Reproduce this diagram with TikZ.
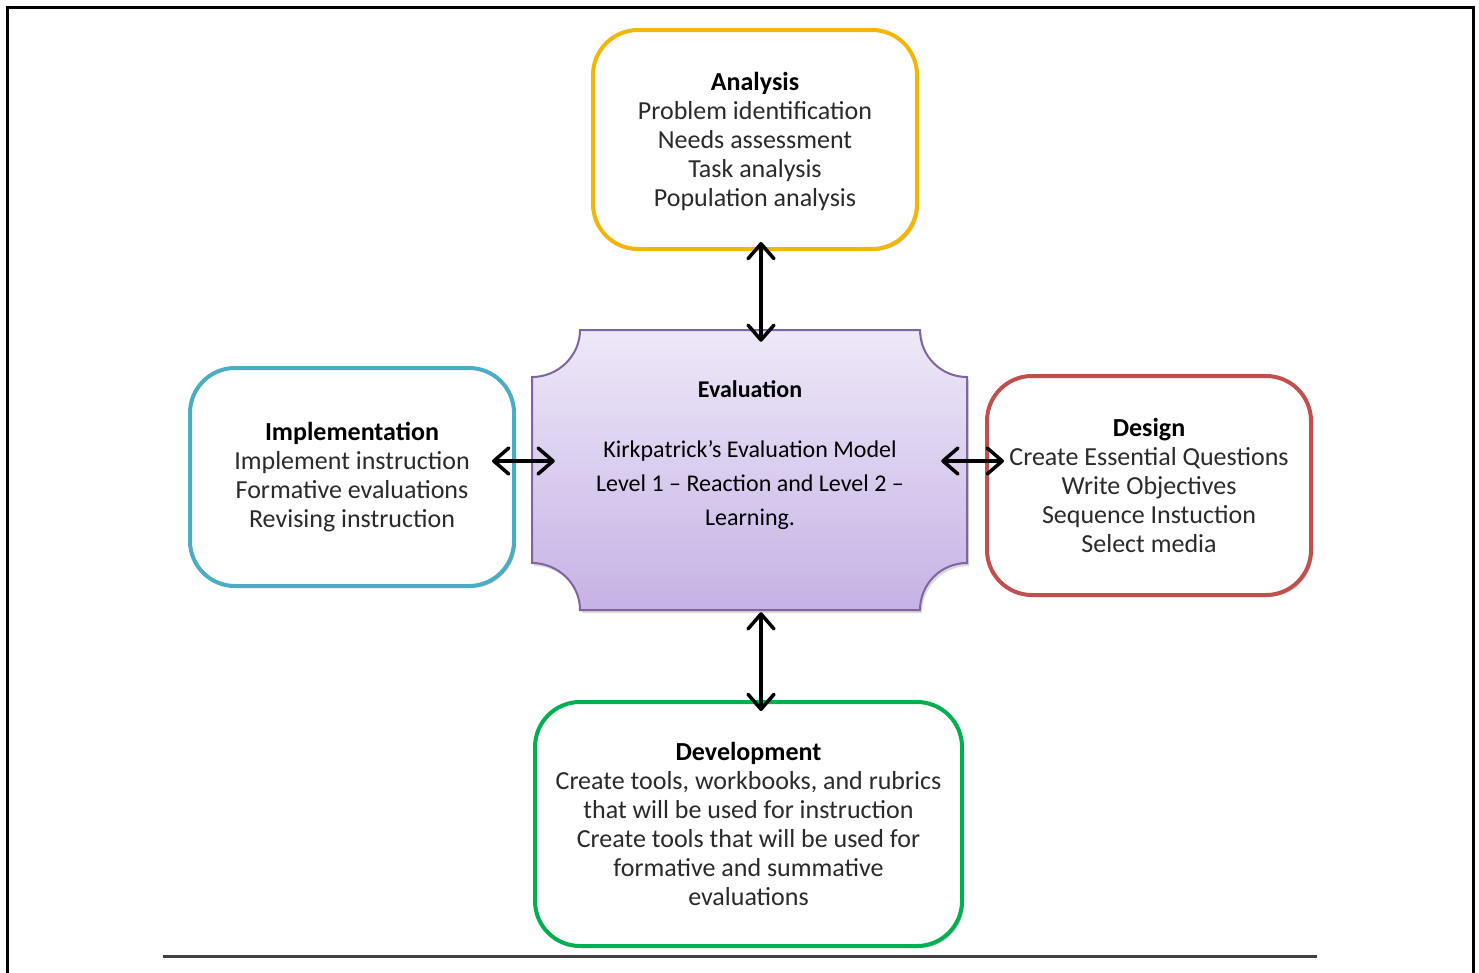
\documentclass[tikz,border=0pt]{standalone}
\usepackage{fontspec}
\setmainfont{Carlito}
\usetikzlibrary{arrows.meta,shadows}
\definecolor{goldc}{HTML}{F2B705}
\definecolor{bluec}{HTML}{4BACC6}
\definecolor{redc}{HTML}{C0504D}
\definecolor{greenc}{HTML}{00B050}
\definecolor{purplec}{HTML}{8064A2}
\definecolor{evaltop}{HTML}{EEE8F8}
\definecolor{evalbot}{HTML}{C6B2E5}
\definecolor{bodytext}{HTML}{2A2A2A}
\tikzset{
  phasebox/.style={draw, line width=4pt, rounded corners=45pt, fill=white,
    align=center, inner sep=0pt, text=bodytext,
    font=\fontsize{26}{29}\selectfont,
    drop shadow={shadow xshift=2pt, shadow yshift=-2pt, opacity=0.2, fill=black}},
  dbl/.style={line width=3.5pt, line cap=round, line join=round,
    {Straight Barb[length=15pt,width=26pt,line cap=round,line join=round]}-{Straight Barb[length=15pt,width=26pt,line cap=round,line join=round]}},
}
\begin{document}
\begin{tikzpicture}[x=1pt,y=-1pt]
\useasboundingbox (0,0) rectangle (1479,972);
% frame
\draw[line width=3pt] (7,975) -- (7,7) -- (1473,7) -- (1473,975);
\draw[line width=3pt, black!75] (163,956) -- (1317,956);

% evaluation shape (concave corners)
\path[draw=purplec, line width=2pt, top color=evaltop, bottom color=evalbot,
  drop shadow={shadow xshift=2pt, shadow yshift=-3pt, opacity=0.15, fill=black}]
  (580,330) -- (920,330)
  .. controls (920,356) and (941,377) .. (967,377)
  -- (967,563)
  .. controls (941,563) and (920,584) .. (920,610)
  -- (580,610)
  .. controls (580,584) and (558,563) .. (532,563)
  -- (532,377)
  .. controls (558,377) and (580,356) .. (580,330) -- cycle;
\node[minimum width=435pt, minimum height=280pt, inner sep=0pt] (eval) at (749.5,470) {};
\node[font=\fontsize{24}{28}\selectfont\bfseries] (evaltitle) at (750,389) {Evaluation};
\node[align=center, font=\fontsize{24}{34}\selectfont] (evalbody) at (750,485)
  {Kirkpatrick’s Evaluation Model\\Level 1 -- Reaction and Level 2 --\\Learning.};

% phase boxes
\node[phasebox, draw=goldc, minimum width=324pt, minimum height=219pt] (ana) at (755,139.5)
  {\rule{0pt}{22pt}{\bfseries\color{black}Analysis}\\Problem identification\\Needs assessment\\Task analysis\\Population analysis};
\node[phasebox, draw=bluec, minimum width=324pt, minimum height=218pt] (impl) at (352,477)
  {{\bfseries\color{black}Implementation}\\Implement instruction\\Formative evaluations\\Revising instruction};
\node[phasebox, draw=redc, minimum width=324pt, minimum height=219pt] (des) at (1149,485.5)
  {{\bfseries\color{black}Design}\\Create Essential Questions\\Write Objectives\\Sequence Instuction\\Select media};
\node[phasebox, draw=greenc, minimum width=427pt, minimum height=244pt] (dev) at (748.5,824)
  {{\bfseries\color{black}Development}\\Create tools, workbooks, and rubrics\\that will be used for instruction\\Create tools that will be used for\\formative and summative\\evaluations};

% arrows
\draw[dbl] ([xshift=6pt,yshift=9pt]ana.south) -- ([xshift=11.5pt,yshift=-12pt]eval.north);
\draw[dbl] ([xshift=11.5pt,yshift=-2pt]eval.south) -- ([xshift=12.5pt,yshift=-11pt]dev.north);
\draw[dbl] ([xshift=-24pt,yshift=16pt]impl.east) -- ([xshift=23pt,yshift=9pt]eval.west);
\draw[dbl] ([xshift=-26pt,yshift=9pt]eval.east) -- ([xshift=19pt,yshift=24.5pt]des.west);
\end{tikzpicture}
\end{document}
